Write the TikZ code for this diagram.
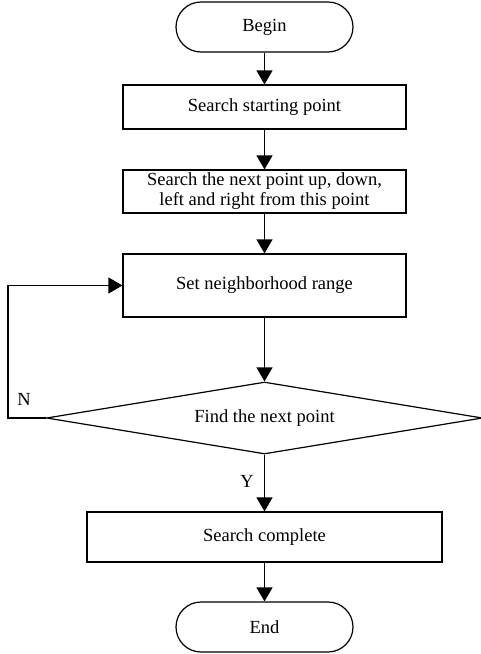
\documentclass[tikz,border=0pt]{standalone}
\usepackage{fontspec}
\setmainfont{Liberation Serif}
\usetikzlibrary{shapes.geometric, arrows.meta, positioning}

\begin{document}
\begin{tikzpicture}[x=1pt, y=-1pt, font=\fontsize{18.5}{20}\selectfont,
  box/.style={draw, line width=1.2pt, minimum width=283pt, inner sep=0pt, align=center},
  terminal/.style={draw, line width=1.2pt, rounded corners=25pt, minimum width=177pt, minimum height=50pt},
  decision/.style={draw, diamond, aspect=8, line width=1.2pt, minimum width=436pt, minimum height=72pt, inner sep=0pt},
  flow/.style={-{Triangle[length=14pt, width=16pt]}, line width=1.2pt}]
  \useasboundingbox (0,0) rectangle (481,654);

  % Steps
  \node[terminal] (begin) at (264.5,27) {Begin};
  \node[box, minimum height=44pt] (start) at (264.5,107) {Search starting point};
  \node[box, minimum height=43pt] (next) at (264.5,191.5) {Search the next point up, down,\\left and right from this point};
  \node[box, minimum height=63pt] (range) at (264.5,285.5) {Set neighborhood range};
  \node[decision] (find) at (264.5,418) {Find the next point};
  \node[box, minimum width=355pt, minimum height=50pt] (done) at (264.5,537) {Search complete};
  \node[terminal] (stop) at (264.5,627) {End};

  % Connectors
  \draw[flow] (begin) -- (start);
  \draw[flow] (start) -- (next);
  \draw[flow] (next) -- (range);
  \draw[flow] (range) -- (find);
  \draw[flow] (find) -- (done);
  \draw[flow] (done) -- (stop);

  % Loop back
  \coordinate (loop) at (8,418);
  \draw[flow] (find.west) -- (loop) |- (range.west);

  % Labels
  \node (no) at (24,399) {N};
  \node (yes) at (247,481) {Y};
\end{tikzpicture}
\end{document}
